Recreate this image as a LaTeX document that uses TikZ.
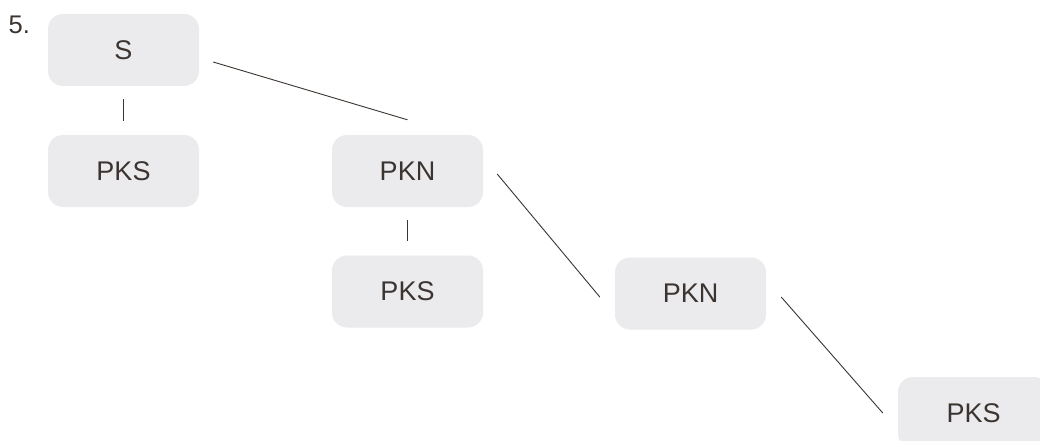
\documentclass[tikz,border=0pt]{standalone}
\usepackage{fontspec}
\setmainfont{Liberation Sans}
\definecolor{boxfill}{HTML}{EBEBED}
\definecolor{ink}{HTML}{3B3430}
\begin{document}
\begin{tikzpicture}[x=1pt,y=-1pt,
  box/.style={fill=boxfill, rounded corners=15pt, minimum width=151pt, minimum height=72pt, inner sep=0pt, text=ink, font=\fontsize{27}{30}\selectfont},
  link/.style={draw=ink, line width=0.9pt}]
\useasboundingbox (0,0) rectangle (1040,441);
\clip (0,0) rectangle (1040,441);
\fill[white] (0,0) rectangle (1040,441);
\node[anchor=base west, text=ink, font=\fontsize{25.5}{28}\selectfont, inner sep=0pt] (num) at (8.5,33.3) {5.};
\node[box] (S) at (123.5,50) {S};
\node[box] (PKS1) at (123.5,171) {PKS};
\node[box] (PKN1) at (407.5,171) {PKN};
\node[box] (PKS2) at (407.5,291.5) {PKS};
\node[box] (PKN2) at (690.5,293.5) {PKN};
\node[box] (PKS3) at (973.5,413) {PKS};
\draw[link, shorten <=13pt, shorten >=14pt] (S) -- (PKS1);
\draw[link, shorten <=13pt, shorten >=14pt] (PKN1) -- (PKS2);
\draw[link] ([xshift=14pt,yshift=-12pt]S.east) -- ([yshift=15pt]PKN1.north);
\draw[link] ([xshift=14pt,yshift=-3pt]PKN1.east) -- ([xshift=-15pt,yshift=-3.5pt]PKN2.west);
\draw[link] ([xshift=15pt,yshift=-3.5pt]PKN2.east) -- ([xshift=-15pt]PKS3.west);
\end{tikzpicture}
\end{document}
